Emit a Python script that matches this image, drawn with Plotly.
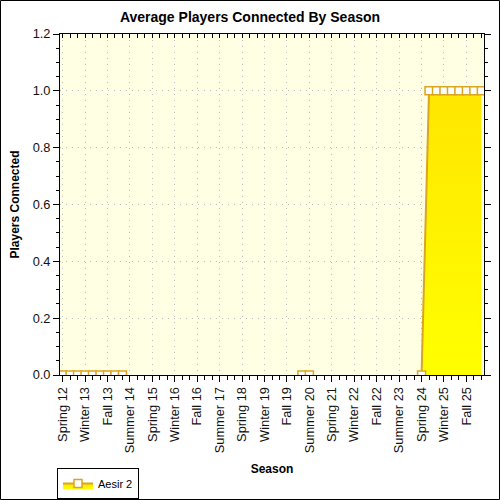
import plotly.graph_objects as go

seasons = [
    "Spring 12", "Summer 12", "Fall 12", "Winter 13",
    "Spring 13", "Summer 13", "Fall 13", "Winter 14",
    "Spring 14", "Summer 14", "Fall 14", "Winter 15",
    "Spring 15", "Summer 15", "Fall 15", "Winter 16",
    "Spring 16", "Summer 16", "Fall 16", "Winter 17",
    "Spring 17", "Summer 17", "Fall 17", "Winter 18",
    "Spring 18", "Summer 18", "Fall 18", "Winter 19",
    "Spring 19", "Summer 19", "Fall 19", "Winter 20",
    "Spring 20", "Summer 20", "Fall 20", "Winter 21",
    "Spring 21", "Summer 21", "Fall 21", "Winter 22",
    "Spring 22", "Summer 22", "Fall 22", "Winter 23",
    "Spring 23", "Summer 23", "Fall 23", "Winter 24",
    "Spring 24", "Summer 24", "Fall 24", "Winter 25",
    "Spring 25", "Summer 25", "Fall 25", "Winter 26",
    "Spring 26",
]

players_aesir2 = [
    0, 0, 0, 0, 0, 0, 0, 0, 0, None, None, None,
    None, None, None, None, None, None, None, None,
    None, None, None, None, None, None, None, None,
    None, None, None, None, 0, 0, None, None,
    None, None, None, None, None, None, None, None,
    None, None, None, None, 0, 1, 1, 1,
    1, 1, 1, 1, 1,
]

label_seasons = seasons[::3]

series_name = "Aesir 2"
title = "Average Players Connected By Season"

xs = list(range(len(seasons)))
label_idx = [seasons.index(s) for s in label_seasons]

fig = go.Figure()
fig.add_trace(go.Scatter(
    x=xs, y=players_aesir2, name=series_name,
    mode="lines+markers",
    line=dict(color="#DAA520", width=2),
    marker=dict(symbol="square", size=8, color="white",
                line=dict(color="#DAA520", width=1.5)),
    fill="tozeroy",
    fillgradient=dict(type="vertical",
                      colorscale=[[0, "#FFFF00"], [1, "#FFE600"]]),
    connectgaps=False,
    text=seasons, hovertemplate="%{text}: %{y}<extra></extra>",
))
# invisible trace for top axis ticks
fig.add_trace(go.Scatter(x=xs, y=[None] * len(xs), xaxis="x2",
                         showlegend=False, hoverinfo="skip"))

font = "Liberation Sans, Arial, sans-serif"
xr = [-0.35, len(seasons) - 1 + 0.35]

L, R, T, B = 60, 16, 34, 125
PW, PH = 500 - L - R, 500 - T - B

fig.update_layout(
    width=500, height=500,
    margin=dict(l=L, r=R, t=T, b=B, autoexpand=False),
    paper_bgcolor="white",
    plot_bgcolor="#FFFFE4",
    font=dict(family=font, size=12.8, color="#111"),
    title=dict(text="<b>" + title + "</b>", x=0.5, xanchor="center",
               xref="container",
               y=1 - 17 / 500, yanchor="middle",
               font=dict(size=14, color="black", family=font)),
    showlegend=True,
    legend=dict(x=(57 - L) / PW, y=(PH - (468 - T)) / PH,
                xanchor="left", yanchor="top",
                bordercolor="black", borderwidth=1, bgcolor="white",
                font=dict(size=11, color="black"),
                itemwidth=30, tracegroupgap=0),
    xaxis=dict(
        range=xr, tickmode="array", tickvals=label_idx, ticktext=label_seasons,
        tickangle=-90, ticks="outside", ticklen=6, tickcolor="black",
        tickfont=dict(size=12.8, color="#111"), automargin=False,
        showline=True, linecolor="black", linewidth=1, mirror=True,
        showgrid=True, gridcolor="#BDBDBD", griddash="1px,5px", gridwidth=1,
        zeroline=False,
        minor=dict(dtick=1, tick0=0, ticks="outside", ticklen=4,
                   tickcolor="black", showgrid=False),
        title=dict(text="<b>Season</b>", font=dict(size=12, color="black"),
                   standoff=12),
    ),
    xaxis2=dict(
        range=xr, overlaying="x", side="top",
        tickmode="array", tickvals=label_idx, ticktext=[""] * len(label_idx),
        ticks="inside", ticklen=4, tickcolor="black", showgrid=False,
        zeroline=False, showline=False, showticklabels=False, automargin=False,
        minor=dict(dtick=1, tick0=0, ticks="inside", ticklen=4,
                   tickcolor="black"),
    ),
    yaxis=dict(
        range=[0, 1.2], dtick=0.2, tickformat=".1f",
        ticks="outside", ticklen=6, tickcolor="black",
        tickfont=dict(size=12.8, color="#111"), automargin=False,
        showline=True, linecolor="black", linewidth=1, mirror="ticks",
        showgrid=True, gridcolor="#BDBDBD", griddash="1px,5px", gridwidth=1,
        zeroline=False,
        minor=dict(dtick=0.05, ticks="outside", ticklen=3,
                   tickcolor="black", showgrid=False),
        title=dict(text="<b>Players Connected</b>",
                   font=dict(size=12, color="black"), standoff=10),
    ),
    shapes=[dict(type="rect", xref="paper", yref="paper",
                 x0=(0.5 - L) / PW, x1=(499.5 - L) / PW,
                 y0=(PH - (499.5 - T)) / PH, y1=(PH - (0.5 - T)) / PH,
                 line=dict(color="black", width=1), layer="above")],
)

fig.write_html(
    "out.html",
    config={"displayModeBar": False},
    post_script="document.body.style.margin='0';"
                "document.body.style.overflow='hidden';",
)
